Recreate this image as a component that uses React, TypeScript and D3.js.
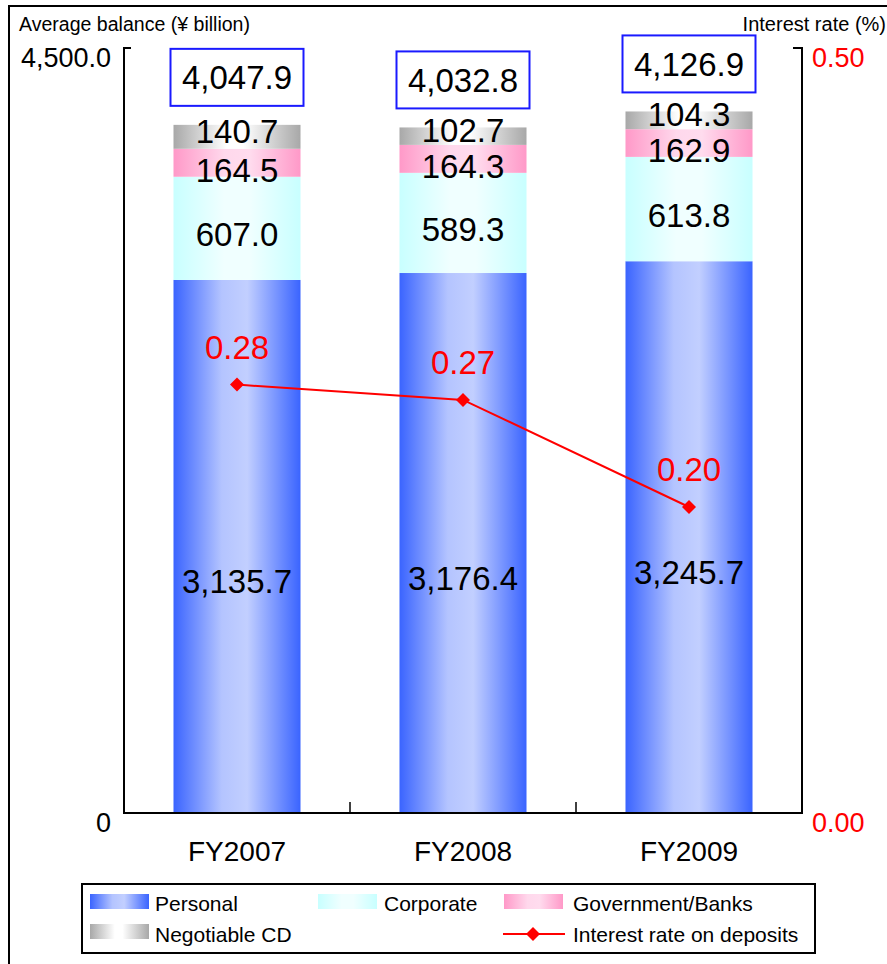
import React from 'react';
import * as d3 from 'd3';

const categories = ['FY2007', 'FY2008', 'FY2009'];
const personal = [3135.7, 3176.4, 3245.7];
const corporate = [607.0, 589.3, 613.8];
const government = [164.5, 164.3, 162.9];
const negotiableCD = [140.7, 102.7, 104.3];
const totals = [4047.9, 4032.8, 4126.9];
const rates = [0.28, 0.27, 0.20];
const leftTicks = [0, 4500];
const leftTickLabels = ['0', '4,500.0'];
const rightTicks = [0, 0.5];
const rightTickLabels = ['0.00', '0.50'];

const seriesNames = ['Personal', 'Corporate', 'Government/Banks', 'Negotiable CD'];
const seriesData = [personal, corporate, government, negotiableCD];
const gradIds = ['gPersonal', 'gCorporate', 'gGov', 'gCD'];
// label vertical offset (text centre relative to segment centre)
const labelShift = [35, 6, 7, -6];

const W = 887;
const H = 964;
const FONT = 'Arial, "Liberation Sans", Helvetica, sans-serif';

const gradients = [
  { id: 'gPersonal', stops: [['0%', '#3a64ff'], ['38%', '#b4c4ff'], ['58%', '#c2cfff'], ['100%', '#3a64ff']] },
  { id: 'gCorporate', stops: [['0%', '#c8ffff'], ['40%', '#f0ffff'], ['60%', '#f0ffff'], ['100%', '#c8ffff']] },
  { id: 'gGov', stops: [['0%', '#ff99c8'], ['40%', '#ffd8ec'], ['60%', '#ffdcee'], ['100%', '#ff99c8']] },
  { id: 'gCD', stops: [['0%', '#a8a8a8'], ['42%', '#ffffff'], ['55%', '#ffffff'], ['100%', '#a8a8a8']] },
];

export default function App() {
  const left = 124;
  const right = 802;
  const bottom = 813;
  const top = 48;

  const x = d3.scaleBand<string>().domain(categories).range([left, right]).padding(0);
  const y = d3.scaleLinear().domain([0, 4500]).range([bottom, top]);
  const yr = d3.scaleLinear().domain([0, 0.5]).range([bottom, top]);

  const barW = x.bandwidth() * 0.562;
  const cx = (c: string) => (x(c) as number) + x.bandwidth() / 2;

  const stacked = categories.map((c, i) => {
    let acc = 0;
    return seriesData.map((s, k) => {
      const y0 = acc;
      acc += s[i];
      return { k, y0, y1: acc, v: s[i] };
    });
  });

  const line = d3
    .line<number>()
    .x((_, i) => cx(categories[i]))
    .y((d) => yr(d));

  const diamond = (px: number, py: number, r: number) =>
    `M${px},${py - r}L${px + r},${py}L${px},${py + r}L${px - r},${py}Z`;

  const bigFs = 33;
  const boxW = 133;
  const boxH = 57;

  const catTicks = categories.slice(1).map((c) => x(c) as number);

  return (
    <svg
      width={W}
      height={H}
      style={{ position: 'absolute', left: 0, top: 0, background: '#fff' }}
      fontFamily={FONT}
    >
      <defs>
        {gradients.map((g) => (
          <linearGradient key={g.id} id={g.id} x1="0" x2="1" y1="0" y2="0">
            {g.stops.map(([o, c], i) => (
              <stop key={i} offset={o} stopColor={c} />
            ))}
          </linearGradient>
        ))}
      </defs>
      <rect x={0} y={0} width={W} height={H} fill="#fff" />
      <rect x={9} y={6} width={W + 20} height={H + 20} fill="none" stroke="#000" strokeWidth={2} />

      {/* axis titles */}
      <text x={19} y={31} fontSize={20} fill="#000" textLength={231} lengthAdjust="spacingAndGlyphs">Average balance (¥ billion)</text>
      <text x={886} y={31} fontSize={20} fill="#000" textAnchor="end">Interest rate (%)</text>

      {/* bars */}
      {categories.map((c, i) =>
        stacked[i].map((seg) => (
          <rect
            key={c + seg.k}
            x={cx(c) - barW / 2}
            y={y(seg.y1)}
            width={barW}
            height={y(seg.y0) - y(seg.y1)}
            fill={`url(#${gradIds[seg.k]})`}
          />
        ))
      )}

      {/* axes */}
      <path
        d={`M${left + 7},${y(4500)}H${left}V${bottom}H${right}V${yr(0.5)}H${right - 9}`}
        fill="none"
        stroke="#000"
        strokeWidth={2}
      />
      {catTicks.map((t, i) => (
        <line key={i} x1={t} x2={t} y1={bottom} y2={bottom - 11} stroke="#000" strokeWidth={1.5} />
      ))}

      {/* tick labels */}
      {leftTicks.map((t, i) => (
        <text key={'l' + i} x={111} y={y(t) + 19} fontSize={27} textAnchor="end" fill="#000">
          {leftTickLabels[i]}
        </text>
      ))}
      {rightTicks.map((t, i) => (
        <text key={'r' + i} x={812} y={yr(t) + 19} fontSize={27} fill="#ff0000">
          {rightTickLabels[i]}
        </text>
      ))}
      {categories.map((c) => (
        <text key={c} x={cx(c)} y={861} fontSize={28} textAnchor="middle" fill="#000">
          {c}
        </text>
      ))}

      {/* segment labels */}
      {categories.map((c, i) =>
        stacked[i].map((seg) => {
          const mid = (y(seg.y0) + y(seg.y1)) / 2 + labelShift[seg.k];
          return (
            <text
              key={'t' + c + seg.k}
              x={cx(c)}
              y={mid + bigFs * 0.358}
              fontSize={bigFs}
              textAnchor="middle"
              fill="#000"
            >
              {d3.format(',.1f')(seg.v)}
            </text>
          );
        })
      )}

      {/* total boxes */}
      {categories.map((c, i) => {
        const bb = y(totals[i]) - 19;
        return (
          <g key={'tot' + c}>
            <rect
              x={cx(c) - boxW / 2}
              y={bb - boxH}
              width={boxW}
              height={boxH}
              fill="#fff"
              stroke="#1a1aff"
              strokeWidth={2}
            />
            <text
              x={cx(c)}
              y={bb - boxH / 2 + bigFs * 0.358}
              fontSize={bigFs}
              textAnchor="middle"
              fill="#000"
            >
              {d3.format(',.1f')(totals[i])}
            </text>
          </g>
        );
      })}

      {/* rate line */}
      <path d={line(rates) || ''} fill="none" stroke="#ff0000" strokeWidth={2} />
      {rates.map((r, i) => (
        <g key={'rate' + i}>
          <path d={diamond(cx(categories[i]), yr(r), 7)} fill="#ff0000" />
          <text
            x={cx(categories[i])}
            y={yr(r) - 26}
            fontSize={bigFs}
            textAnchor="middle"
            fill="#ff0000"
          >
            {d3.format('.2f')(r)}
          </text>
        </g>
      ))}

      {/* legend */}
      <rect x={82} y={884} width={733} height={69} fill="#fff" stroke="#000" strokeWidth={2} />
      {[
        { k: 0, sx: 90, tx: 155, row: 0 },
        { k: 1, sx: 318, tx: 384, row: 0 },
        { k: 2, sx: 504, tx: 573, row: 0 },
        { k: 3, sx: 90, tx: 155, row: 1 },
      ].map((l) => (
        <g key={'leg' + l.k}>
          <rect x={l.sx} y={894 + l.row * 30} width={59} height={15} fill={`url(#${gradIds[l.k]})`} />
          <text x={l.tx} y={911 + l.row * 31} fontSize={21} fill="#000">
            {seriesNames[l.k]}
          </text>
        </g>
      ))}
      <line x1={503} x2={565} y1={934} y2={934} stroke="#ff0000" strokeWidth={2} />
      <path d={diamond(533, 934, 7)} fill="#ff0000" />
      <text x={573} y={942} fontSize={21} fill="#000">Interest rate on deposits</text>
    </svg>
  );
}
